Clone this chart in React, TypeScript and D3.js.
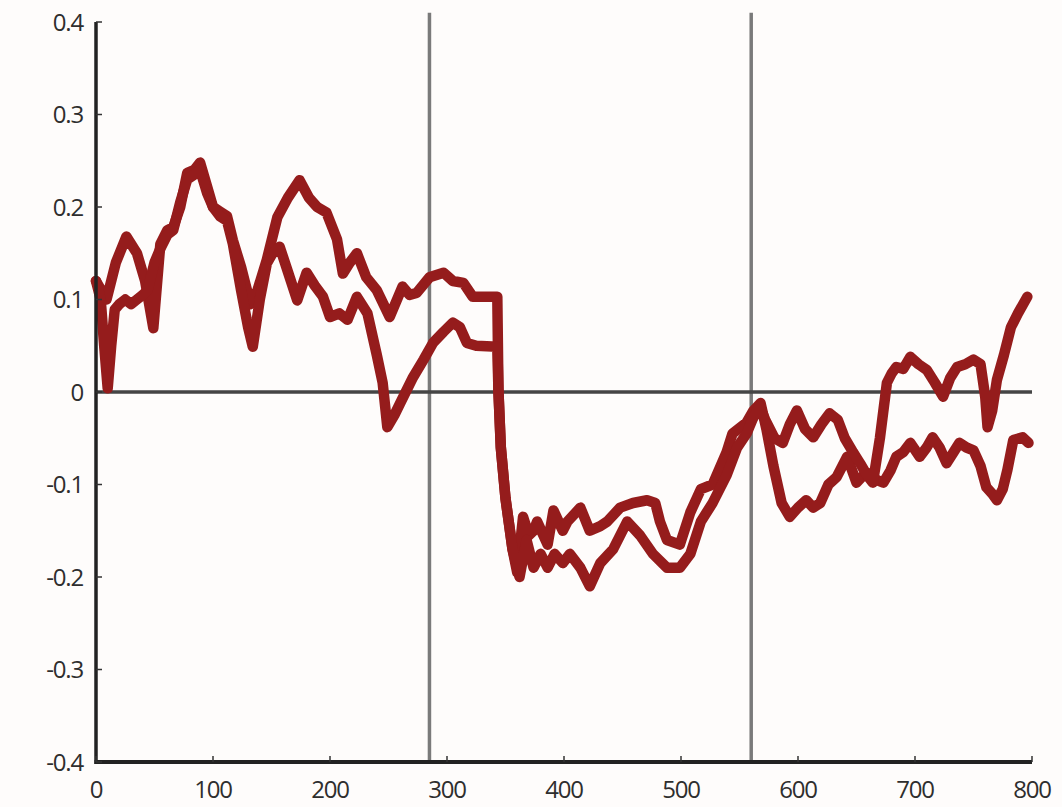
import React from "react";
import * as d3 from "d3";

// Series A: [x, y]
const seriesA: [number, number][] = [
  [0, 0.12], [9, 0.1], [17, 0.14], [26, 0.168], [35, 0.15], [42, 0.12], [49, 0.069], [55, 0.16],
  [61, 0.175], [66, 0.178], [72, 0.2], [78, 0.237], [84, 0.24], [89, 0.248], [95, 0.222], [100, 0.2],
  [106, 0.195], [112, 0.19], [117, 0.164], [124, 0.135], [132, 0.095], [138, 0.11], [146, 0.143],
  [155, 0.189], [164, 0.21], [174, 0.229], [182, 0.21], [189, 0.2], [197, 0.194], [206, 0.165],
  [211, 0.128], [217, 0.14], [223, 0.15], [231, 0.124], [240, 0.11], [251, 0.081], [262, 0.114],
  [268, 0.105], [274, 0.107], [285, 0.124], [297, 0.129], [305, 0.12], [314, 0.118], [322, 0.103],
  [343, 0.103], [344, 0.0], [346, -0.06], [350, -0.115], [356, -0.17], [360, -0.195], [365, -0.135],
  [370, -0.155], [374, -0.15], [377, -0.14], [386, -0.165], [391, -0.128], [399, -0.15], [403, -0.14],
  [414, -0.125], [422, -0.15], [431, -0.145], [437, -0.14], [448, -0.125], [459, -0.12], [471, -0.117],
  [478, -0.12], [482, -0.14], [488, -0.16], [499, -0.165], [508, -0.13], [517, -0.105], [527, -0.1],
  [539, -0.065], [544, -0.045], [556, -0.033], [562, -0.02], [568, -0.012], [573, -0.04], [579, -0.08],
  [586, -0.12], [593, -0.135], [600, -0.125], [607, -0.117], [613, -0.125], [619, -0.12], [626, -0.1],
  [633, -0.092], [642, -0.07], [650, -0.098], [656, -0.09], [662, -0.088], [667, -0.095], [673, -0.098],
  [679, -0.085], [684, -0.07], [690, -0.065], [696, -0.055], [704, -0.07], [710, -0.06], [715, -0.049],
  [721, -0.06], [727, -0.077], [733, -0.065], [738, -0.055], [744, -0.06], [750, -0.063], [756, -0.08],
  [761, -0.103], [766, -0.11], [770, -0.117], [775, -0.105], [779, -0.084], [784, -0.052], [792, -0.049],
  [797, -0.055],
];

// Series B: [x, y]
const seriesB: [number, number][] = [
  [0, 0.12], [4, 0.1], [7, 0.05], [10, 0.004], [13, 0.05], [16, 0.089], [20, 0.095], [25, 0.1],
  [30, 0.095], [35, 0.1], [40, 0.105], [44, 0.11], [50, 0.14], [55, 0.155], [61, 0.17], [66, 0.175],
  [72, 0.205], [78, 0.23], [84, 0.235], [89, 0.24], [95, 0.215], [100, 0.2], [106, 0.19], [112, 0.185],
  [117, 0.16], [124, 0.11], [130, 0.07], [134, 0.049], [140, 0.1], [146, 0.139], [151, 0.15],
  [157, 0.157], [164, 0.13], [172, 0.099], [180, 0.129], [187, 0.115], [194, 0.103], [200, 0.081],
  [208, 0.085], [215, 0.078], [223, 0.103], [232, 0.085], [240, 0.04], [245, 0.01], [249, -0.038],
  [255, -0.025], [260, -0.012], [271, 0.016], [280, 0.035], [288, 0.053], [297, 0.065], [305, 0.075],
  [311, 0.07], [317, 0.053], [325, 0.05], [343, 0.049], [344, 0.0], [346, -0.06], [350, -0.115],
  [356, -0.17], [362, -0.2], [368, -0.16], [374, -0.19], [380, -0.175], [386, -0.19], [392, -0.175],
  [399, -0.185], [405, -0.175], [414, -0.19], [422, -0.21], [431, -0.185], [442, -0.17], [454, -0.14],
  [465, -0.155], [476, -0.175], [488, -0.19], [499, -0.19], [508, -0.175], [517, -0.14], [527, -0.12],
  [539, -0.09], [548, -0.06], [556, -0.045], [561, -0.03], [567, -0.015], [572, -0.03], [580, -0.05],
  [587, -0.055], [593, -0.035], [599, -0.02], [606, -0.04], [613, -0.049], [620, -0.035], [627, -0.023],
  [634, -0.03], [640, -0.05], [647, -0.065], [653, -0.077], [659, -0.09], [664, -0.098], [670, -0.05],
  [676, 0.01], [680, 0.02], [684, 0.027], [690, 0.025], [696, 0.038], [703, 0.03], [710, 0.024],
  [717, 0.01], [724, -0.005], [730, 0.015], [736, 0.027], [743, 0.03], [750, 0.035], [756, 0.03],
  [760, -0.005], [762, -0.038], [766, -0.02], [770, 0.013], [776, 0.04], [782, 0.07], [788, 0.085],
  [796, 0.103],
];

const verticalMarkers = [285, 560];
const xTicks = [0, 100, 200, 300, 400, 500, 600, 700, 800];
const yTicks = [-0.4, -0.3, -0.2, -0.1, 0, 0.1, 0.2, 0.3, 0.4];

const W = 1062;
const H = 807;

export default function App() {
  const x = d3.scaleLinear().domain([0, 800]).range([96, 1032]);
  const y = d3.scaleLinear().domain([-0.4, 0.4]).range([762, 22]);
  const line = d3
    .line<[number, number]>()
    .x((d) => x(d[0]))
    .y((d) => y(d[1]));

  const lineColor = "#951c1c";
  const font = "'Open Sans', 'DejaVu Sans', sans-serif";

  return (
    <svg
      width={W}
      height={H}
      style={{ position: "absolute", left: 0, top: 0, display: "block" }}
    >
      <rect x={0} y={0} width={W} height={H} fill="#fefcfb" />
      {verticalMarkers.map((v) => (
        <line
          key={v}
          x1={x(v)}
          x2={x(v)}
          y1={y(0.41)}
          y2={y(-0.4)}
          stroke="#7a7a7a"
          strokeWidth={3.5}
        />
      ))}
      <line x1={x(0)} x2={x(800)} y1={y(0)} y2={y(0)} stroke="#454545" strokeWidth={3.5} />
      {[seriesA, seriesB].map((s, i) => (
        <path
          key={i}
          d={line(s) || ""}
          fill="none"
          stroke={lineColor}
          strokeWidth={10.5}
          strokeLinejoin="round"
          strokeLinecap="round"
        />
      ))}
      <line x1={x(0)} x2={x(0)} y1={y(0.4)} y2={y(-0.4) + 2} stroke="#222" strokeWidth={3.5} />
      <line x1={x(0) - 1.5} x2={x(800)} y1={y(-0.4)} y2={y(-0.4)} stroke="#222" strokeWidth={4} />
      {yTicks.map((t) => (
        <g key={"y" + t}>
          <line x1={x(0)} x2={x(0) + 6} y1={y(t)} y2={y(t)} stroke="#333" strokeWidth={1.5} />
          <text
            x={83}
            y={y(t)}
            dy="0.36em"
            textAnchor="end"
            fontFamily={font}
            fontSize={24}
            letterSpacing={-1.2}
            fill="#2e2e2e"
          >
            {t === 0 ? "0" : d3.format(".1f")(t).replace("−", "-")}
          </text>
        </g>
      ))}
      {xTicks.map((t) => (
        <g key={"x" + t}>
          <line x1={x(t)} x2={x(t)} y1={y(-0.4)} y2={y(-0.4) - 6} stroke="#333" strokeWidth={1.5} />
          <text
            x={x(t)}
            y={798}
            textAnchor="middle"
            fontFamily={font}
            fontSize={24}
            letterSpacing={-1.2}
            fill="#2e2e2e"
          >
            {t}
          </text>
        </g>
      ))}
    </svg>
  );
}
